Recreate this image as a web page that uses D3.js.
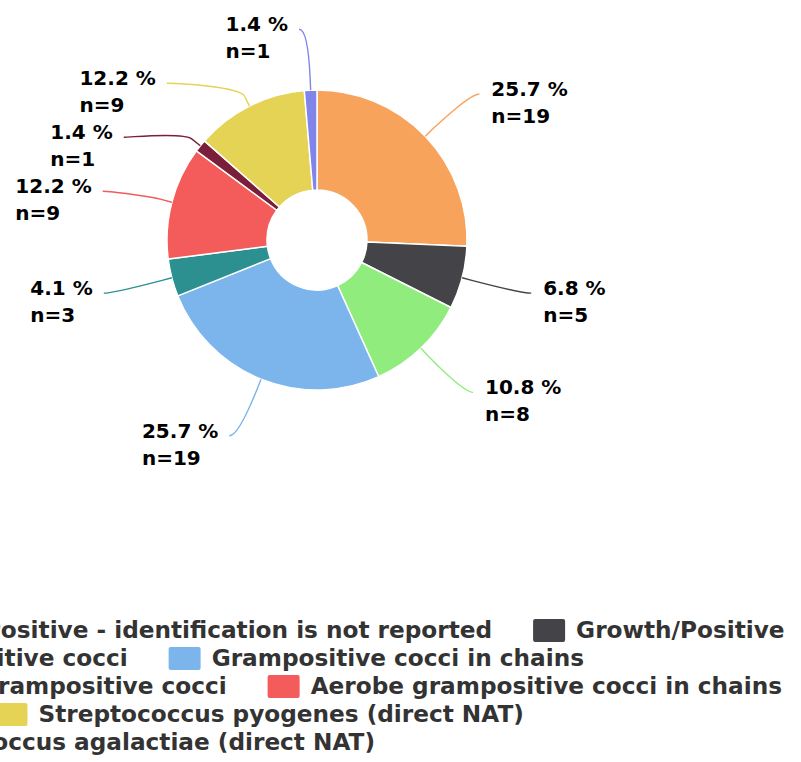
<!DOCTYPE html>
<html>
<head>
<meta charset="utf-8">
<script src="https://cdn.jsdelivr.net/npm/d3@7/dist/d3.min.js"></script>
<style>
  html, body { margin: 0; padding: 0; background: #fff; overflow: hidden; }
  svg { display: block; font-family: "DejaVu Sans", sans-serif; font-weight: bold; }
</style>
</head>
<body>
<svg id="chart" width="801" height="762"></svg>
<script>
// data
const categories = [
  'Growth/Positive - identification is not reported',
  'Growth/Positive',
  'Grampositive cocci',
  'Grampositive cocci in chains',
  'Aerobe grampositive cocci',
  'Aerobe grampositive cocci in chains',
  'Other',
  'Streptococcus pyogenes (direct NAT)',
  'Streptococcus agalactiae (direct NAT)'
];
const counts = [19, 5, 8, 19, 3, 9, 1, 9, 1];
const colors = ['#f7a35c', '#434348', '#90ed7d', '#7cb5ec', '#2b908f', '#f45b5b', '#7a1f3a', '#e4d354', '#8085e9'];

const W = 801, H = 762;
const CX = 317, CY = 240;
const R_OUT = 150, R_IN = 50;
const LABEL_R = 211, BREAK_R = 161;
const LABEL_GAP = 54;
const LABEL_FONT = 20, LINE_H = 27;

const LEGEND_LEFT = -163, LEGEND_TOP = 619, LEGEND_MAX_W = 1000;
const LEGEND_FONT = 23.2, LEGEND_ROW_H = 28;
const SYM_W = 32, SYM_H = 23, SYM_GAP = 11, ITEM_GAP = 41;

const total = d3.sum(counts);
const data = categories.map((c, i) => ({name: c, n: counts[i], color: colors[i]}));

const svg = d3.select('#chart');
svg.append('rect').attr('width', W).attr('height', H).attr('fill', '#fff');

const pie = d3.pie().sort(null).value(d => d.n);
const arcs = pie(data);
const arc = d3.arc().innerRadius(R_IN).outerRadius(R_OUT);

const g = svg.append('g').attr('transform', `translate(${CX},${CY})`);
g.selectAll('path.slice')
  .data(arcs)
  .enter().append('path')
  .attr('class', 'slice')
  .attr('d', arc)
  .attr('fill', d => d.data.color)
  .attr('stroke', '#fff')
  .attr('stroke-width', 1.5)
  .attr('stroke-linejoin', 'round');

// label positions (natural, then pushed apart on each side)
const labels = arcs.map(d => {
  const a = (d.startAngle + d.endAngle) / 2;
  return {
    d: d, a: a,
    left: a > Math.PI,
    nx: CX + Math.sin(a) * LABEL_R,
    ny: CY - Math.cos(a) * LABEL_R
  };
});

[true, false].forEach(side => {
  const list = labels.filter(l => l.left === side).sort((p, q) => p.ny - q.ny);
  let prev = -Infinity;
  list.forEach(l => {
    l.y = Math.max(l.ny, prev + LABEL_GAP);
    prev = l.y;
    if (Math.abs(l.y - l.ny) < 0.5) {
      l.x = l.nx;
    } else {
      const dy = Math.max(-1, Math.min(1, (l.y - CY) / LABEL_R));
      l.x = CX + (side ? -1 : 1) * Math.cos(Math.asin(dy)) * LABEL_R;
    }
  });
});

// connectors
labels.forEach(l => {
  const sx = l.x + (l.left ? -9 : 10), sy = l.y;
  const bx = CX + Math.sin(l.a) * BREAK_R, by = CY - Math.cos(l.a) * BREAK_R;
  const tx = CX + Math.sin(l.a) * R_OUT, ty = CY - Math.cos(l.a) * R_OUT;
  const p = d3.path();
  p.moveTo(sx, sy);
  p.bezierCurveTo(sx + (l.left ? 9 : -9), sy, 2 * bx - tx, 2 * by - ty, bx, by);
  p.lineTo(tx, ty);
  svg.append('path')
    .attr('d', p.toString())
    .attr('fill', 'none')
    .attr('stroke', l.d.data.color)
    .attr('stroke-width', 1.4);
});

// label texts
labels.forEach(l => {
  const pct = (l.d.data.n / total * 100).toFixed(1) + ' %';
  const t = svg.append('text')
    .attr('font-size', LABEL_FONT)
    .attr('fill', '#000');
  t.append('tspan').attr('y', l.y + 2).text(pct);
  t.append('tspan').attr('y', l.y + 2 + LINE_H).text('n=' + l.d.data.n);
  let x0;
  if (l.left) {
    const w = d3.max(t.selectAll('tspan').nodes(), n => n.getComputedTextLength());
    x0 = l.x - 20 - w;
  } else {
    x0 = l.x + 22;
  }
  t.selectAll('tspan').attr('x', x0);
});

// legend (flowing rows)
const legend = svg.append('g');
let lx = LEGEND_LEFT, row = 0;
data.forEach(d => {
  const item = legend.append('g');
  const txt = item.append('text')
    .attr('font-size', LEGEND_FONT)
    .attr('fill', '#333')
    .text(d.name);
  const w = SYM_W + SYM_GAP + txt.node().getComputedTextLength();
  if (lx > LEGEND_LEFT && lx + w > LEGEND_LEFT + LEGEND_MAX_W) {
    row += 1;
    lx = LEGEND_LEFT;
  }
  const top = LEGEND_TOP + row * LEGEND_ROW_H;
  item.append('rect')
    .attr('x', lx).attr('y', top)
    .attr('width', SYM_W).attr('height', SYM_H)
    .attr('rx', 2)
    .attr('fill', d.color);
  txt.attr('x', lx + SYM_W + SYM_GAP).attr('y', top + 18.5);
  lx += w + ITEM_GAP;
});
</script>
</body>
</html>
